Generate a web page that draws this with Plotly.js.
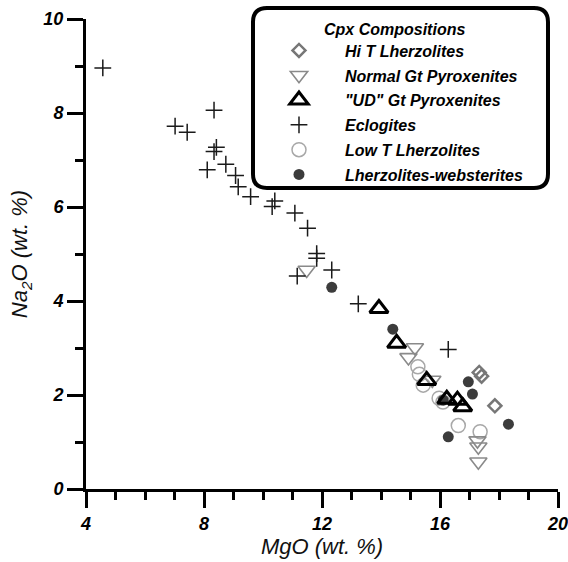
<!DOCTYPE html>
<html><head><meta charset="utf-8">
<script src="https://cdn.plot.ly/plotly-3.0.1.min.js"></script>
<style>html,body{margin:0;padding:0;background:#fff}#chart{width:568px;height:562px}</style>
</head><body><div id="chart"></div>
<script>
// Hi T Lherzolites
var hiT_x = [17.33, 17.41, 17.86];
var hiT_y = [2.48, 2.40, 1.77];
// Normal Gt Pyroxenites
var normGt_x = [11.48, 15.15, 14.93, 15.74, 17.27, 17.30, 17.30];
var normGt_y = [4.66, 3.01, 2.80, 2.32, 1.03, 0.90, 0.58];
// "UD" Gt Pyroxenites
var udGt_x = [13.93, 14.53, 15.55, 16.23, 16.59, 16.77];
var udGt_y = [3.84, 3.10, 2.31, 1.91, 1.89, 1.75];
// Eclogites
var eclog_x = [4.57, 7.02, 7.43, 8.34, 8.42, 8.34, 8.11, 8.74, 9.07, 9.16, 9.58, 10.31, 10.40, 11.08, 11.51, 11.82, 11.82, 11.16, 12.33, 13.23, 16.28];
var eclog_y = [8.96, 7.72, 7.59, 8.06, 7.27, 7.18, 6.79, 6.91, 6.67, 6.43, 6.22, 6.01, 6.13, 5.87, 5.55, 5.01, 4.91, 4.53, 4.66, 3.94, 2.97];
// Low T Lherzolites
var lowT_x = [15.25, 15.30, 15.43, 15.97, 16.10, 16.62, 17.36];
var lowT_y = [2.60, 2.44, 2.21, 1.93, 1.85, 1.35, 1.22];
// Lherzolites-websterites
var lhzWeb_x = [12.33, 14.40, 16.96, 17.10, 16.11, 18.32, 16.28];
var lhzWeb_y = [4.29, 3.40, 2.28, 2.02, 1.89, 1.38, 1.11];

var xTicks = [4, 8, 12, 16, 20];
var yTicks = [0, 2, 4, 6, 8, 10];

var FONT = 'Liberation Sans, Arial, sans-serif';

function tr(name, x, y, marker, rank) {
  return {type: 'scatter', mode: 'markers', name: name, x: x, y: y, marker: marker,
    cliponaxis: false, legendrank: rank, legendgroup: 'g' + rank, hoverinfo: 'x+y'};
}

var data = [
  tr('Low T Lherzolites', lowT_x, lowT_y, {symbol: 'circle-open', size: 14, color: '#a8a8a8', line: {width: 1.5}}, 5),
  tr('Normal Gt Pyroxenites', normGt_x, normGt_y, {symbol: 'triangle-down-open', size: 15, color: '#8a8a8a', line: {width: 1.6}}, 2),
  tr('Eclogites', eclog_x, eclog_y, {symbol: 'cross-thin-open', size: 12, color: '#1a1a1a', line: {width: 1.5}}, 4),
  tr('Lherzolites-websterites', lhzWeb_x, lhzWeb_y, {symbol: 'circle', size: 11, color: '#3c3c3c'}, 6),
  tr('Hi T Lherzolites', hiT_x, hiT_y, {symbol: 'diamond-open', size: 10, color: '#777777', line: {width: 2.5}}, 1),
  tr('"UD" Gt Pyroxenites', udGt_x, udGt_y, {symbol: 'triangle-up-open', size: 16, color: '#000000', line: {width: 3}}, 3)
];

var axisCommon = {
  showline: true, linewidth: 3, linecolor: '#000', mirror: false,
  showgrid: false, zeroline: false,
  ticks: 'outside', ticklen: 16, tickwidth: 3, tickcolor: '#000',
  ticklabeloverflow: 'allow',
  tickfont: {family: FONT, size: 18, color: '#000', weight: 'bold', style: 'italic'},
  minor: {dtick: 1, ticks: 'outside', ticklen: 8, tickwidth: 3, tickcolor: '#000', showgrid: false}
};

var layout = {
  width: 568, height: 562,
  margin: {l: 86, r: 10, t: 19, b: 73},
  paper_bgcolor: '#fff', plot_bgcolor: '#fff',
  showlegend: true,
  xaxis: Object.assign({}, axisCommon, {
    range: [4, 20], tickmode: 'array', tickvals: xTicks, ticktext: xTicks.map(String),
    title: {text: 'MgO (wt. %)', font: {family: FONT, size: 22, color: '#111', style: 'italic'}, standoff: 6}
  }),
  yaxis: Object.assign({}, axisCommon, {
    range: [0, 10], tickmode: 'array', tickvals: yTicks, ticktext: yTicks.map(String),
    title: {text: 'Na<sub>2</sub>O (wt. %)', font: {family: FONT, size: 22, color: '#111', style: 'italic'}, standoff: 10}
  }),
  legend: {
    x: 0.3538, xanchor: 'left', y: 0.969, yanchor: 'top',
    bgcolor: 'rgba(0,0,0,0)', borderwidth: 0,
    itemwidth: 82, tracegroupgap: 1, traceorder: 'grouped',
    font: {family: FONT, size: 16, color: '#000', weight: 'bold', style: 'italic'},
    itemclick: false, itemdoubleclick: false
  },
  annotations: [{
    xref: 'paper', yref: 'paper', x: 0.5, y: 0.9787, xanchor: 'left', yanchor: 'middle',
    text: 'Cpx Compositions', showarrow: false,
    font: {family: FONT, size: 16, color: '#000', weight: 'bold', style: 'italic'}
  }],
  shapes: [{
    type: 'path', xref: 'paper', yref: 'paper', layer: 'above',
    path: 'M 0.3835 1.0234 L 0.9491 1.0234 Q 0.9788 1.0234 0.9788 0.9936 L 0.9788 0.6702 Q 0.9788 0.6404 0.9491 0.6404 L 0.3835 0.6404 Q 0.3538 0.6404 0.3538 0.6702 L 0.3538 0.9936 Q 0.3538 1.0234 0.3835 1.0234 Z',
    line: {color: '#000', width: 4}, fillcolor: 'rgba(0,0,0,0)'
  }]
};

Plotly.newPlot('chart', data, layout, {displayModeBar: false, staticPlot: true});
</script>
</body></html>
